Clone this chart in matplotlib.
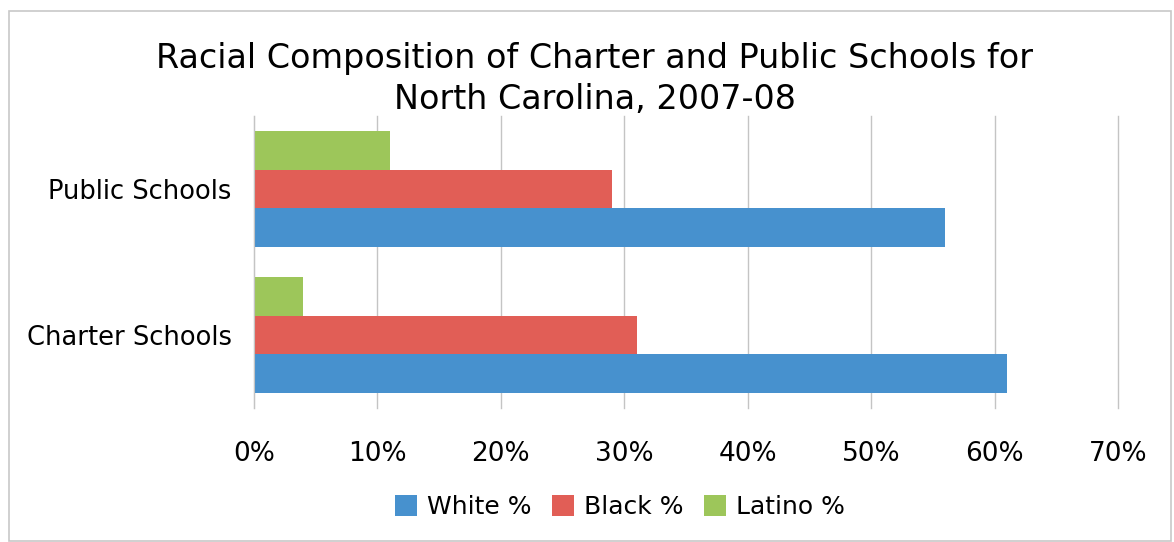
import numpy as np
import matplotlib
matplotlib.use("Agg")
import matplotlib.pyplot as plt
from matplotlib.patches import Rectangle
from matplotlib.ticker import FuncFormatter

# ── data ──────────────────────────────────────────────────────────────────────
categories = ["Charter Schools", "Public Schools"]
white_pct  = [0.61, 0.56]
black_pct  = [0.31, 0.29]
latino_pct = [0.04, 0.11]
series_labels = ["White %", "Black %", "Latino %"]
x_ticks = [0, 0.1, 0.2, 0.3, 0.4, 0.5, 0.6, 0.7]

COLOR_WHITE  = "#4791CE"
COLOR_BLACK  = "#E15E56"
COLOR_LATINO = "#9DC65A"
GRID_COLOR   = "#C4C4C4"

plt.rcParams["font.family"] = ["DejaVu Sans"]

fig = plt.figure(figsize=(11.74, 5.42), dpi=100)
fig.patches.append(Rectangle((9 / 1174, 1 / 542), 1162 / 1174, 530 / 542,
                             transform=fig.transFigure, fill=False,
                             edgecolor="#C8C8C8", linewidth=1.2))

ax = fig.add_axes([254 / 1174, 1 - 408 / 542, 864 / 1174, 292 / 542])

y = np.arange(len(categories))
h = 0.267
ax.barh(y - h, white_pct, height=h, color=COLOR_WHITE, label=series_labels[0], zorder=2)
ax.barh(y, black_pct, height=h, color=COLOR_BLACK, label=series_labels[1], zorder=2)
ax.barh(y + h, latino_pct, height=h, color=COLOR_LATINO, label=series_labels[2], zorder=2)

ax.set_xlim(0, 0.7)
ax.set_ylim(-0.5, 1.5)
ax.set_xticks(x_ticks)
ax.xaxis.set_major_formatter(FuncFormatter(lambda v, _: f"{v * 100:.0f}%"))
ax.set_yticks(y)
ax.set_yticklabels(categories)
ax.grid(axis="x", color=GRID_COLOR, linewidth=1, zorder=0)
for gl in ax.get_xgridlines():
    gl.set_clip_on(False)
ax.set_axisbelow(True)
for s in ["top", "right", "bottom"]:
    ax.spines[s].set_visible(False)
ax.spines["left"].set_color(GRID_COLOR)
ax.tick_params(axis="x", length=0, pad=24, labelsize=19)
ax.tick_params(axis="y", length=0, pad=16, labelsize=18.5)

fig.suptitle("Racial Composition of Charter and Public Schools for\nNorth Carolina, 2007-08",
             fontsize=24, x=595 / 1174, y=1 - 42 / 542, va="top", linespacing=1.32)

fig.legend(loc="center", bbox_to_anchor=(620 / 1174, 1 - 507 / 542), ncol=3,
           frameon=False, fontsize=18, handlelength=0.9, handleheight=0.9,
           handletextpad=0.4, columnspacing=0.8)

fig.savefig("out.png", dpi=100)
